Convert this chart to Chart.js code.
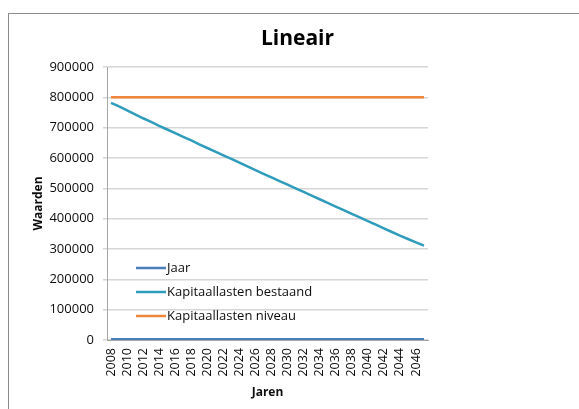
<!DOCTYPE html>
<html>
<head>
<meta charset="utf-8">
<script src="https://cdn.jsdelivr.net/npm/chart.js@4/dist/chart.umd.min.js"></script>
<style>
  html, body { margin: 0; padding: 0; background: #ffffff; }
  #wrap { position: relative; width: 579px; height: 409px; overflow: hidden; }
  canvas { display: block; }
</style>
</head>
<body>
<div id="wrap"><canvas id="c" width="579" height="409"></canvas></div>
<script>
// Years on the category axis
const jaren = [2008, 2009, 2010, 2011, 2012, 2013, 2014, 2015, 2016, 2017,
               2018, 2019, 2020, 2021, 2022, 2023, 2024, 2025, 2026, 2027,
               2028, 2029, 2030, 2031, 2032, 2033, 2034, 2035, 2036, 2037,
               2038, 2039, 2040, 2041, 2042, 2043, 2044, 2045, 2046, 2047];

// Series "Jaar": the year itself as a value
const jaar = [2008, 2009, 2010, 2011, 2012, 2013, 2014, 2015, 2016, 2017,
              2018, 2019, 2020, 2021, 2022, 2023, 2024, 2025, 2026, 2027,
              2028, 2029, 2030, 2031, 2032, 2033, 2034, 2035, 2036, 2037,
              2038, 2039, 2040, 2041, 2042, 2043, 2044, 2045, 2046, 2047];

// Existing capital charges, decreasing linearly
const kapitaallastenBestaand = [782000, 770000, 757000, 744000, 731000, 719000, 706000, 694000, 682000, 670000,
                                658000, 645000, 633000, 621000, 609000, 597000, 585000, 572000, 560000, 548000,
                                536000, 524000, 512000, 500000, 488000, 476000, 464000, 452000, 440000, 428000,
                                416000, 404000, 392000, 380000, 368000, 356000, 344000, 333000, 322000, 311000];

// Capital charge level
const kapitaallastenNiveau = [800000, 800000, 800000, 800000, 800000, 800000, 800000, 800000, 800000, 800000,
                             800000, 800000, 800000, 800000, 800000, 800000, 800000, 800000, 800000, 800000,
                             800000, 800000, 800000, 800000, 800000, 800000, 800000, 800000, 800000, 800000,
                             800000, 800000, 800000, 800000, 800000, 800000, 800000, 800000, 800000, 800000];

const reeksNamen = ['Jaar', 'Kapitaallasten bestaand', 'Kapitaallasten niveau'];
const yTicks = [0, 100000, 200000, 300000, 400000, 500000, 600000, 700000, 800000, 900000];

const FONT = '"Open Sans", "Liberation Sans", sans-serif';
const TEXT = '#0d0d0d';
const kleuren = ['#4a7ebb', '#2f9cbc', '#f0843a'];

// Outer frame, title and in-plot legend
const decor = {
  id: 'decor',
  beforeDraw(chart) {
    const ctx = chart.ctx;
    ctx.save();
    ctx.fillStyle = '#ffffff';
    ctx.fillRect(0, 0, chart.width, chart.height);
    ctx.strokeStyle = '#8c8c8c';
    ctx.lineWidth = 1;
    ctx.strokeRect(8.5, 13.5, 640, 460);
    ctx.restore();
  },
  afterDraw(chart) {
    const ctx = chart.ctx;
    ctx.save();
    ctx.fillStyle = '#000000';
    ctx.font = 'bold 21px ' + FONT;
    ctx.textAlign = 'center';
    ctx.textBaseline = 'alphabetic';
    ctx.fillText('Lineair', 297.5, 45);

    ctx.font = '13px ' + FONT;
    ctx.textAlign = 'left';
    ctx.textBaseline = 'middle';
    const rows = [268, 292, 316];
    chart.data.datasets.forEach((ds, i) => {
      const y = rows[i];
      ctx.strokeStyle = ds.borderColor;
      ctx.lineWidth = 2.5;
      ctx.beginPath();
      ctx.moveTo(136, y);
      ctx.lineTo(166, y);
      ctx.stroke();
      ctx.fillStyle = TEXT;
      ctx.fillText(ds.label, 167, y);
    });
    ctx.restore();
  }
};

new Chart(document.getElementById('c'), {
  type: 'line',
  data: {
    labels: jaren,
    datasets: [
      { label: reeksNamen[0], data: jaar, borderColor: kleuren[0], backgroundColor: kleuren[0], borderWidth: 3 },
      { label: reeksNamen[1], data: kapitaallastenBestaand, borderColor: kleuren[1], backgroundColor: kleuren[1] },
      { label: reeksNamen[2], data: kapitaallastenNiveau, borderColor: kleuren[2], backgroundColor: kleuren[2] }
    ]
  },
  options: {
    responsive: false,
    animation: false,
    devicePixelRatio: 1,
    layout: { padding: { left: 0, top: 67, right: 151, bottom: 0 } },
    elements: {
      line: { borderWidth: 2.5, tension: 0 },
      point: { radius: 0, hoverRadius: 0 }
    },
    plugins: {
      legend: { display: false },
      title: { display: false },
      tooltip: { enabled: false }
    },
    scales: {
      x: {
        type: 'category',
        offset: true,
        grid: { display: true, drawOnChartArea: false, drawTicks: false },
        border: { display: true, color: '#a6a6a6', width: 1 },
        ticks: {
          autoSkip: false,
          minRotation: 90,
          maxRotation: 90,
          padding: 8,
          color: TEXT,
          font: { family: FONT, size: 12.5 },
          callback: function (val, idx) { return idx % 2 === 0 ? String(jaren[idx]) : ''; }
        },
        title: {
          display: true,
          text: 'Jaren',
          color: TEXT,
          font: { family: FONT, size: 12, weight: 'bold' },
          padding: { top: 0, bottom: 9 }
        },
        afterFit(scale) { scale.height = 69; }
      },
      y: {
        min: 0,
        max: 900000,
        afterBuildTicks(scale) { scale.ticks = yTicks.map(v => ({ value: v })); },
        grid: { color: '#d6d6d6', lineWidth: 1.5, tickLength: 4, drawTicks: true },
        border: { display: true, color: '#a6a6a6', width: 1 },
        ticks: {
          padding: 9,
          color: TEXT,
          font: { family: FONT, size: 13 },
          callback: v => String(v)
        },
        title: {
          display: true,
          text: 'Waarden',
          color: TEXT,
          font: { family: FONT, size: 12, weight: 'bold' },
          padding: { top: 31, bottom: 0 }
        },
        afterFit(scale) { scale.width = 107; }
      }
    }
  },
  plugins: [decor]
});
</script>
</body>
</html>
